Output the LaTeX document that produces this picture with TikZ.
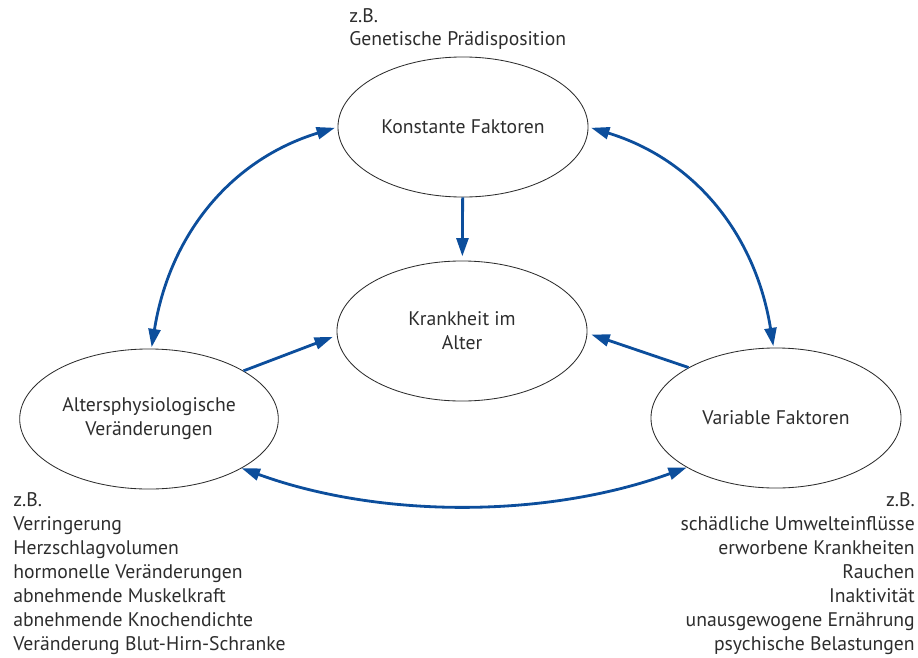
\documentclass[tikz,border=0pt]{standalone}
\usepackage{fontspec}
\setmainfont{PT Sans}
\usetikzlibrary{shapes.geometric, arrows.meta, positioning}
\definecolor{pfeilblau}{RGB}{12,78,156}
\definecolor{textgrau}{RGB}{45,45,45}
\tikzset{
  ellbox/.style   = {ellipse, draw=textgrau, line width=0.6pt,
                     minimum width=6.25cm, minimum height=3.5cm,
                     align=center, text=textgrau,
                     font=\fontsize{14}{17}\selectfont},
  beispiel/.style = {inner sep=0pt, text=textgrau,
                     font=\fontsize{14}{17}\selectfont},
  conn/.style     = {->, line width=2pt, draw=pfeilblau},
  dconn/.style    = {<->, line width=2pt, draw=pfeilblau},
  >={Triangle[length=13pt,width=8.5pt]},
}
\begin{document}
\begin{tikzpicture}[x=0.025cm, y=-0.025cm]
  \useasboundingbox (0,0) rectangle (918,657);
  \node[ellbox] (konst)    at (463,127) {Konstante Faktoren};
  \node[ellbox] (krank)    at (462,331) {Krankheit im\\Alter};
  \node[ellbox] (alter)    at (149,419) {Altersphysiologische\\Veränderungen};
  \node[ellbox] (variabel) at (776,418) {Variable Faktoren};
  % Beispiele
  \node[beispiel, anchor=base west, align=left] (bspkonst) at (349,46)
        {z.B.\\Genetische Prädisposition};
  \node[beispiel, anchor=base west, align=left] (bspalter) at (13,650)
        {z.B.\\Verringerung\\Herzschlagvolumen\\hormonelle Veränderungen\\
         abnehmende Muskelkraft\\abnehmende Knochendichte\\
         Veränderung Blut-Hirn-Schranke};
  \node[beispiel, anchor=base east, align=right] (bspvar) at (915,650)
        {z.B.\\schädliche Umwelteinflüsse\\erworbene Krankheiten\\Rauchen\\
         Inaktivität\\unausgewogene Ernährung\\psychische Belastungen};
  % Pfeile
  \draw[conn, shorten >=3pt] (konst) -- (krank);
  \draw[conn, shorten >=3pt] (alter.27) -- (krank.182);
  \draw[conn, shorten >=3pt] (variabel.150) -- (krank.-1);
  \draw[dconn, shorten <=1pt, shorten >=2pt] (alter.88) to[out=81, in=197] (konst.180);
  \draw[dconn, shorten <=1pt, shorten >=2pt] (variabel.92) to[out=99, in=-17] (konst.0);
  \draw[dconn] (alter.-28) to[out=-20, in=200, looseness=0.85] (variabel.209);
\end{tikzpicture}
\end{document}
